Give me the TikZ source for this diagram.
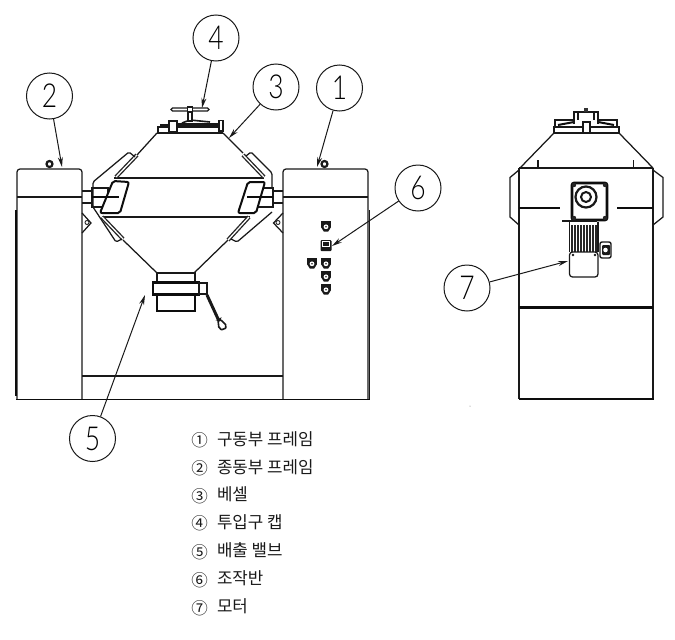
\documentclass[tikz,border=0pt]{standalone}
\usepackage{fontspec}
\usetikzlibrary{arrows.meta}
\newfontfamily\krfont{Noto Sans CJK KR}
\newfontfamily\digfont{Lato Light}
\tikzset{
  x=1pt,y=-1pt,
  ln/.style={line width=1.25pt,black!90},
  thin ln/.style={line width=.9pt,black!85},
  thick ln/.style={line width=2pt,black!95},
  heavy ln/.style={line width=3pt,black!95},
  callout/.style={circle,draw=black!90,line width=1pt,minimum size=46pt,inner sep=0pt,fill=white,font=\digfont\fontsize{33}{33}\selectfont},
  leader/.style={line width=1pt,black!90,-{Stealth[length=10pt,width=5pt]}},
  listnum/.style={anchor=center,font=\krfont\fontsize{16.5}{16.5}\selectfont,text=black!90},
  listtxt/.style={anchor=west,font=\krfont\fontsize{16.8}{16.8}\selectfont,text=black!90},
}
\newcommand{\digit}[1]{\scalebox{.8}[1]{#1}}
\newcommand{\shieldicon}[2]{%
  \fill[black!90] (#1-4.8,#2-4.8) -- (#1+4.8,#2-4.8) -- (#1+4.8,#2+1.5) -- (#1+2.2,#2+5.5) -- (#1-2.2,#2+5.5) -- (#1-4.8,#2+1.5) -- cycle;
  \fill[white] (#1,#2+.8) circle (2.4);
  \fill[black!85] (#1,#2+.8) circle (.9);
}
\begin{document}
\begin{tikzpicture}
\useasboundingbox (0,0) rectangle (675,640);
\fill[white] (0,0) rectangle (675,640);

% ---------- front view: frames
\draw[ln,rounded corners=3pt] (82,399.5) -- (82,169) -- (17,169) -- (17,399.5);
\draw[ln,rounded corners=3pt] (283,399.5) -- (283,169) -- (368,169) -- (368,399.5);
\draw[ln] (17,197) -- (82,197);
\draw[ln] (283,197) -- (368,197);
\draw[thick ln] (15.8,210) -- (15.8,396);
\draw[ln] (369.3,210) -- (369.3,399.5);
\draw[line width=1.5pt,black!95] (16,399.5) -- (369.5,399.5);
\draw[ln] (82,376) -- (283,376);
% bolts
\draw[line width=2.2pt,black!90] (49.5,164) circle (3);
\draw[line width=2.2pt,black!90] (324.5,164) circle (3);
% mounts
\draw[ln] (82,213) -- (91,223) -- (82,233);
\draw[thin ln] (87,222.5) circle (2);
\draw[ln] (283,213) -- (273.5,223) -- (283,233);
\draw[thin ln] (278,222.5) circle (2);
% shafts
\draw[ln] (82,191) -- (92,191) (82,203) -- (92,203);
\draw[ln] (273,191) -- (283,191) (273,203) -- (283,203);
\draw[ln] (92,188) rectangle (108,207);
\draw[ln] (258,188) -- (273,188) -- (273,207) -- (252,207);

% ---------- vessel
\draw[ln] (157,133) -- (137,155);
\draw[ln] (223,133) -- (243,153);
\draw[ln] (123,240) -- (157,273);
\draw[ln] (228,240) -- (194,273);
\draw[ln] (114,178) -- (264,178);
\draw[ln] (102,217) -- (250,217);
% hatched bars
\draw[line width=4pt,black!85] (137,155) -- (116,177);
\draw[line width=1.3pt,white] (137,155) -- (116,177);
\draw[line width=4pt,black!85] (243,155) -- (264,177);
\draw[line width=1.3pt,white] (243,155) -- (264,177);
\draw[line width=4pt,black!85] (102,217) -- (123,239);
\draw[line width=1.3pt,white] (102,217) -- (123,239);
\draw[line width=4pt,black!85] (249,217) -- (228,240);
\draw[line width=1.3pt,white] (249,217) -- (228,240);
% brackets
\draw[ln,rounded corners=1.5pt] (135,157) -- (129,152) -- (93,182) -- (93,207) -- (116,242) -- (122,239);
\draw[ln,rounded corners=1.5pt] (246,156) -- (251,152) -- (272,173) -- (272,188);
\draw[ln,rounded corners=1.5pt] (272,212) -- (237,242) -- (231,239);
% plates
\draw[thick ln,fill=white,rounded corners=2pt] (100,213) -- (113,181) -- (129,182) -- (120,213) -- cycle;
\draw[thick ln,fill=white,rounded corners=2pt] (238,213) -- (248,182) -- (265,182) -- (256,213) -- cycle;
\draw[thick ln] (92,197) -- (119,197);
\draw[thick ln] (247,197) -- (273,197);

% ---------- charging cap
\draw[ln,fill=white] (158,133) -- (158,127) -- (222,127) -- (222,133) -- cycle;
\draw[ln] (161,127) -- (161,125) -- (169,125);
\fill[black!90] (177,123) rectangle (219,127);
\draw[ln,fill=white] (169,121) rectangle (177,132);
\draw[ln,fill=white] (219,120.5) rectangle (223,131);
\draw[line width=1.6pt,black!90] (182,123) -- (190,120) -- (210,122);
\draw[ln,fill=white] (188,112) rectangle (192,121);
\draw[ln,fill=white,rounded corners=1.5pt] (171,108) rectangle (209,111);
\draw[ln,fill=white] (187.5,107) rectangle (192.5,112);

% ---------- discharge valve
\draw[ln] (157,273) rectangle (195,282);
\draw[line width=2.2pt,black!95] (157,295) -- (157,311) -- (195,311) -- (195,295);
\draw[line width=2.8pt,black!95] (153,282.5) rectangle (199,294.5);
\draw[ln] (199,283) rectangle (207,294);
\draw[line width=3pt,black!90] (207,295) -- (219,321);
\draw[line width=1.6pt,black!90,rounded corners=2pt] (218,320) -- (220,319) -- (227,326) -- (224,330) -- (219,329) -- cycle;

% ---------- control panel
\shieldicon{326}{226}
\fill[black!90,rounded corners=1pt] (320.5,240) rectangle (331.5,251);
\draw[white,line width=.9pt] (322.8,241.5) rectangle (329.2,246);
\shieldicon{312}{263}
\shieldicon{326}{263}
\shieldicon{326}{276}
\shieldicon{326}{289}

% ---------- side view: body
\draw[ln] (554,133) -- (520,168);
\draw[ln] (619,133) -- (653,168);
\draw[ln] (519,168) -- (653,168);
\draw[ln] (538,168) -- (538,160) (633.5,168) -- (633.5,160);
\draw[line width=1.6pt,black!90] (519,168) -- (519,399);
\draw[line width=1.6pt,black!90] (653,168) -- (653,399);
\draw[line width=1.5pt,black!95] (518.5,399) -- (653.5,399);
\draw[heavy ln] (519,307) -- (653,307);
\draw[thick ln] (519,208) -- (560,208) (617,208) -- (653,208);
\draw[ln] (519,170) -- (510,177.5) -- (510,217) -- (519,225);
\draw[ln] (653,170) -- (663,177.5) -- (663,217) -- (653,225);
% side view: cap
\draw[ln] (554,127) rectangle (619,133);
\draw[ln] (555,127) -- (555,120) -- (574,120) (598,120) -- (617,120) -- (617,127);
\draw[thick ln] (558,125) -- (574,122) (598,122) -- (614,125);
\draw[ln] (574,124) -- (574,112) -- (598,112) -- (598,124);
\draw[ln] (578,112) -- (578,120) (594,112) -- (594,120);
\fill[black!80] (584,108) rectangle (588,112);
\draw[line width=1.4pt,black!90,fill=white] (583,122) rectangle (590,133);
% side view: motor
\draw[line width=2.6pt,black!95,rounded corners=2pt] (572,183) rectangle (607,220);
\draw[line width=2.2pt,black!90] (586,197) circle (10.5);
\draw[line width=2pt,black!90] (586,197) circle (5);
\foreach \a/\b in {574/185,605/185,574/218,605/218}{\fill[black!85] (\a,\b) circle (2.2);}
\draw[line width=1.7pt,black!90] (562,221) -- (597,221);
\draw[ln] (569.5,222) -- (569.5,252) (598,222) -- (598,252);
\foreach \f in {572,575,578,581,584,587,590,593,596}{\draw[line width=1.3pt,black!85] (\f,225) -- (\f,252);}
\draw[ln,fill=white,rounded corners=3pt] (569.5,252) -- (569.5,277) -- (598,277) -- (598,252) -- cycle;
\fill[black!90] (573,255) circle (1.3) (595,255) circle (1.3);
\draw[line width=1.4pt,black!90,fill=white,rounded corners=2pt] (600,242) rectangle (611,258);
\fill[black!90,rounded corners=1pt] (602,245) rectangle (610,255);
\fill[white] (605.5,250) circle (2.3);

% ---------- stray speck
\fill[black!55] (470,406) circle (.5);

% ---------- callouts
\coordinate (t1) at (317,167);
\coordinate (t2) at (62,167);
\coordinate (t3) at (229,138);
\coordinate (t4) at (202,108);
\coordinate (t5) at (145,295);
\coordinate (t6) at (332,246);
\coordinate (t7) at (568,261);
\node[callout] (c1) at (339.5,88) {\digit{1}};
\node[callout] (c2) at (49.5,96) {\digit{2}};
\node[callout] (c3) at (276,87) {\digit{3}};
\node[callout] (c4) at (216,38) {\digit{4}};
\node[callout] (c5) at (92.5,438.5) {\digit{5}};
\node[callout] (c6) at (418,188) {\digit{6}};
\node[callout] (c7) at (467,288) {\digit{7}};
\foreach \n in {1,...,7}{\draw[leader] (c\n) -- (t\n);}

% ---------- legend
\node[listnum] (n1) at (199.5,440) {①};
\node[listtxt] (l1) at (213.5,439) {구동부 프레임};
\node[listnum] (n2) at (199.5,468) {②};
\node[listtxt] (l2) at (213.5,467) {종동부 프레임};
\node[listnum] (n3) at (199.5,496) {③};
\node[listtxt] (l3) at (213.5,494) {베셀};
\node[listnum] (n4) at (199.5,523) {④};
\node[listtxt] (l4) at (213.5,522) {투입구 캡};
\node[listnum] (n5) at (199.5,552) {⑤};
\node[listtxt] (l5) at (213.5,550) {배출 밸브};
\node[listnum] (n6) at (199.5,580) {⑥};
\node[listtxt] (l6) at (213.5,578) {조작반};
\node[listnum] (n7) at (199.5,608) {⑦};
\node[listtxt] (l7) at (213.5,606) {모터};
\end{tikzpicture}
\end{document}
